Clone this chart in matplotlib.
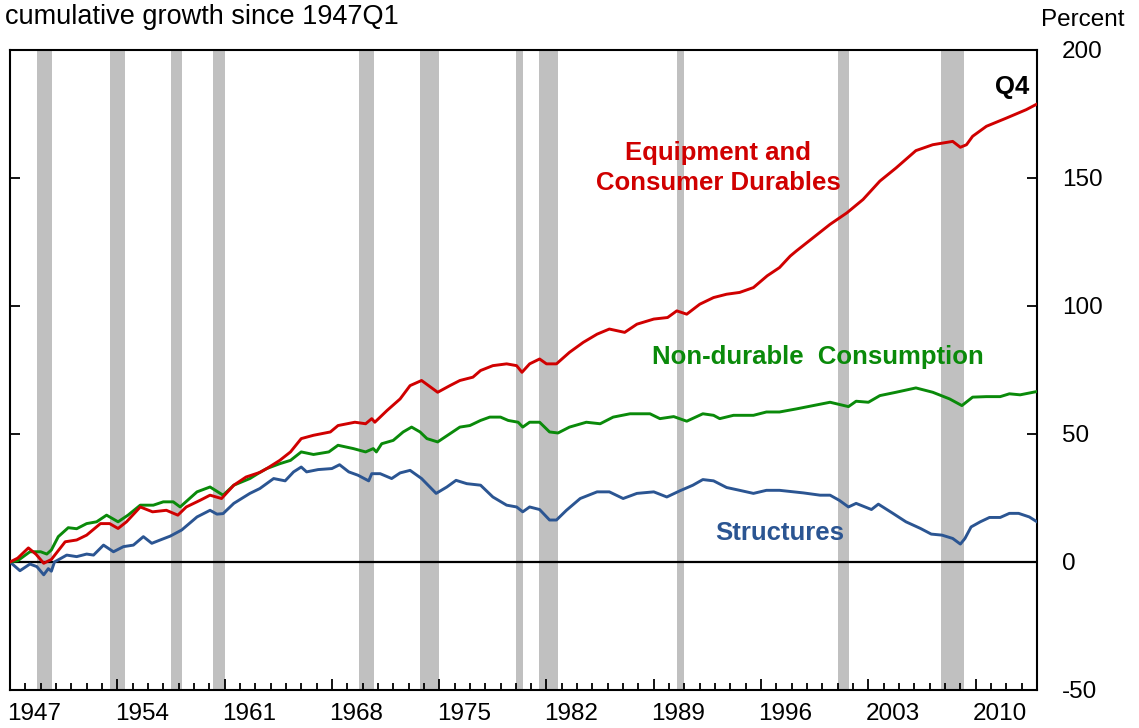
import numpy as np
import matplotlib
matplotlib.use("Agg")
import matplotlib.pyplot as plt
import matplotlib.transforms as mtransforms
from matplotlib.ticker import MultipleLocator

plt.rcParams["font.family"] = ["Liberation Sans", "DejaVu Sans"]
plt.rcParams["axes.unicode_minus"] = False

# values (percent growth since 1947Q1)
equip_t = [1947.0, 1947.5, 1948.2, 1948.7, 1949.2, 1949.7, 1950.6, 1951.35, 1952.0, 1952.9,
           1953.5, 1954.05, 1954.6, 1955.5, 1956.3, 1957.2, 1957.95, 1958.5, 1959.4, 1960.05,
           1960.8, 1961.6, 1962.4, 1963.3, 1963.75, 1964.6, 1965.3, 1966.0, 1966.8, 1967.9,
           1968.4, 1969.5, 1970.2, 1970.6, 1970.8, 1971.6, 1972.45, 1973.1, 1973.85, 1974.9,
           1975.7, 1976.35, 1977.2, 1977.7, 1978.5, 1979.4, 1980.05, 1980.4, 1980.9, 1981.55,
           1982.0, 1982.65, 1983.5, 1984.4, 1985.3, 1986.1, 1987.1, 1987.9, 1989.0, 1989.9,
           1990.5, 1991.15, 1992.0, 1992.9, 1993.75, 1994.6, 1995.5, 1996.4, 1997.2, 1997.9,
           1998.3, 1999.4, 2000.5, 2001.6, 2002.65, 2003.75, 2004.8, 2006.1, 2007.2, 2008.5,
           2009.0, 2009.4, 2009.8, 2010.7, 2012.0, 2013.3, 2014.0]
equip_v = [0, 1.5, 5.5, 3, -0.5, 1, 7.9, 8.6, 10.5, 15,
           15, 13.1, 15.7, 21.5, 19.6, 20.2, 18.3, 21.5, 24.1, 26.1,
           24.8, 30, 33.2, 35, 36.5, 39.7, 43, 48.2, 49.5, 50.8,
           53.3, 54.6, 54, 56, 54.6, 59.2, 63.7, 68.9, 70.9, 66.3,
           68.9, 70.9, 72.2, 74.8, 76.7, 77.4, 76.7, 74.1, 77.4, 79.3,
           77.4, 77.4, 81.9, 85.8, 89, 91, 89.7, 92.9, 94.9, 95.5,
           98.1, 96.8, 100.7, 103.3, 104.6, 105.3, 107.2, 111.8, 115, 119.5,
           121.5, 126.7, 131.9, 136.4, 141.6, 148.8, 153.9, 160.7, 163, 164.3,
           162, 163, 166.3, 170.2, 173.4, 176.7, 178.9]

nondur_t = [1947.0, 1947.5, 1948.3, 1949.0, 1949.4, 1949.7, 1950.15, 1950.8, 1951.35, 1952.0,
            1952.65, 1953.3, 1954.05, 1954.7, 1955.5, 1956.35, 1957.0, 1957.65, 1958.1, 1959.2,
            1960.05, 1960.9, 1961.6, 1962.65, 1963.3, 1963.75, 1964.6, 1965.3, 1966.0, 1966.8,
            1967.8, 1968.4, 1969.4, 1970.2, 1970.7, 1970.9, 1971.25, 1972.0, 1972.65, 1973.2,
            1973.75, 1974.2, 1974.9, 1975.7, 1976.35, 1977.0, 1977.7, 1978.3, 1979.0, 1979.5,
            1980.15, 1980.45, 1980.9, 1981.55, 1982.2, 1982.75, 1983.5, 1984.6, 1985.5, 1986.35,
            1987.45, 1988.75, 1989.4, 1990.3, 1991.15, 1992.2, 1992.9, 1993.3, 1994.2, 1995.5,
            1996.35, 1997.2, 1998.3, 1999.4, 2000.5, 2001.7, 2002.2, 2003.0, 2003.75, 2004.8,
            2006.1, 2007.2, 2008.3, 2009.1, 2009.8, 2010.7, 2011.6, 2012.2, 2012.9, 2014.0]
nondur_v = [0, 0.5, 4, 4, 3.1, 4.7, 9.9, 13.4, 13, 15,
            15.7, 18.3, 15.7, 18.3, 22.2, 22.2, 23.5, 23.5, 21.5, 27.4,
            29.3, 26.1, 30, 32.6, 35, 36.5, 38.4, 39.7, 43, 42,
            43, 45.6, 44.3, 43, 44.3, 43, 46.2, 47.5, 50.8, 52.7,
            50.8, 48.2, 46.9, 50.1, 52.7, 53.3, 55.3, 56.6, 56.6, 55.3,
            54.6, 52.7, 54.6, 54.6, 50.8, 50.4, 52.7, 54.6, 54, 56.6,
            57.9, 57.9, 56, 56.8, 55, 57.9, 57.3, 56, 57.3, 57.3,
            58.6, 58.6, 59.8, 61.1, 62.4, 60.7, 62.8, 62.4, 65, 66.3,
            68, 66.3, 63.7, 61.1, 64.4, 64.6, 64.6, 65.7, 65.3, 66.6]

struct_t = [1947.0, 1947.65, 1948.3, 1948.75, 1949.2, 1949.5, 1949.7, 1949.9, 1950.7, 1951.35,
            1952.0, 1952.45, 1953.1, 1953.75, 1954.4, 1955.05, 1955.7, 1956.25, 1956.8, 1957.45,
            1958.2, 1959.2, 1960.05, 1960.5, 1960.9, 1961.6, 1962.65, 1963.3, 1964.2, 1964.95,
            1965.5, 1966.0, 1966.35, 1967.1, 1968.0, 1968.5, 1969.1, 1969.7, 1970.4, 1970.6,
            1971.15, 1971.9, 1972.45, 1973.1, 1973.85, 1974.8, 1975.5, 1976.1, 1976.8, 1977.7,
            1978.5, 1979.4, 1980.05, 1980.45, 1980.9, 1981.55, 1982.2, 1982.65, 1983.3, 1984.2,
            1985.3, 1986.1, 1987.0, 1987.9, 1989.0, 1989.85, 1990.7, 1991.55, 1992.2, 1992.9,
            1993.75, 1994.6, 1995.5, 1996.35, 1997.2, 1998.75, 1999.85, 2000.5, 2001.1, 2001.7,
            2002.2, 2003.2, 2003.65, 2004.6, 2005.45, 2006.4, 2007.1, 2007.8, 2008.5, 2009.0,
            2009.3, 2009.7, 2010.3, 2010.9, 2011.6, 2012.2, 2012.8, 2013.5, 2014.0]
struct_v = [0, -3.4, -0.8, -1.8, -5, -2.6, -3.6, 0, 2.7, 2.1,
            3.1, 2.7, 6.6, 4, 6, 6.6, 9.9, 7.3, 8.6, 10.1,
            12.5, 17.6, 20.2, 18.7, 18.9, 22.9, 26.8, 28.7, 32.6, 31.7,
            35.2, 37.1, 35.2, 36.1, 36.5, 38, 35.2, 33.9, 31.7, 34.5,
            34.5, 32.6, 34.8, 35.8, 32.6, 26.8, 29.3, 31.9, 30.6, 30,
            25.4, 22.2, 21.5, 19.6, 21.5, 20.5, 16.4, 16.4, 20.2, 24.8,
            27.4, 27.4, 24.8, 26.8, 27.4, 25.4, 27.8, 30, 32.2, 31.7,
            29.1, 28, 26.8, 28, 28, 27, 26.1, 26.1, 24.1, 21.5,
            22.9, 20.5, 22.6, 19, 15.7, 13.1, 10.9, 10.5, 9.2, 7,
            9.2, 13.7, 15.7, 17.4, 17.4, 19, 19, 17.6, 15.7]

# NBER recessions (start, end) in fractional years
recessions = [(1948.75, 1949.75), (1953.5, 1954.5), (1957.5, 1958.25), (1960.25, 1961.0),
              (1969.75, 1970.75), (1973.75, 1975.0), (1980.0, 1980.5), (1981.5, 1982.75),
              (1990.5, 1991.0), (2001.0, 2001.75), (2007.75, 2009.25)]

year_ticks = [1947, 1954, 1961, 1968, 1975, 1982, 1989, 1996, 2003, 2010]

red = "#d00000"
green = "#0a8a0a"
blue = "#2b5592"

fig = plt.figure(figsize=(11.39, 7.28), dpi=100)
ax = fig.add_axes([10 / 1139, 1 - 690 / 728, 1027 / 1139, 640 / 728])

for a, b in recessions:
    ax.axvspan(a, b, color="#c0c0c0", lw=0, zorder=0)

ax.axhline(0, color="black", lw=1.6, zorder=2)
ax.plot(struct_t, struct_v, color=blue, lw=2.1, zorder=3)
ax.plot(nondur_t, nondur_v, color=green, lw=2.1, zorder=3)
ax.plot(equip_t, equip_v, color=red, lw=2.1, zorder=4)

ax.set_xlim(1947, 2014)
ax.set_ylim(-50, 200)

for s in ax.spines.values():
    s.set_linewidth(1.5)

ax.set_xticks(year_ticks)
ax.set_xticklabels([str(y) for y in year_ticks])
ax.xaxis.set_minor_locator(MultipleLocator(1))
ax.tick_params(axis="x", which="major", direction="in", length=8, width=1.3,
               labelsize=17.5, pad=9, top=False)
ax.tick_params(axis="x", which="minor", direction="in", length=5, width=1.3, top=False)
# year labels sit to the right of their tick
offset = mtransforms.ScaledTranslation(0.245, 0, fig.dpi_scale_trans)
for lab in ax.get_xticklabels():
    lab.set_transform(lab.get_transform() + offset)

ax.set_yticks([-50, 0, 50, 100, 150, 200])
ax.yaxis.tick_right()
ax.tick_params(axis="y", which="major", direction="in", length=7, width=1.3,
               labelsize=17.5, pad=18, left=True, right=True)

ax.text(1993.2, 153.8, "Equipment and\nConsumer Durables", color=red, fontsize=18.5,
        fontweight="bold", ha="center", va="center", linespacing=1.3)
ax.text(1999.7, 80.2, "Non-durable  Consumption", color=green, fontsize=18.5,
        fontweight="bold", ha="center", va="center")
ax.text(1997.2, 11.3, "Structures", color=blue, fontsize=18.5,
        fontweight="bold", ha="center", va="center")
ax.text(2012.4, 185.7, "Q4", color="black", fontsize=18.5,
        fontweight="bold", ha="center", va="center")

fig.text(5 / 1139, 1 - 17 / 728, "cumulative growth since 1947Q1", fontsize=19.5,
         ha="left", va="center")
fig.text(1083 / 1139, 1 - 20 / 728, "Percent", fontsize=17.5, ha="center", va="center")

fig.savefig("out.png", dpi=100)
